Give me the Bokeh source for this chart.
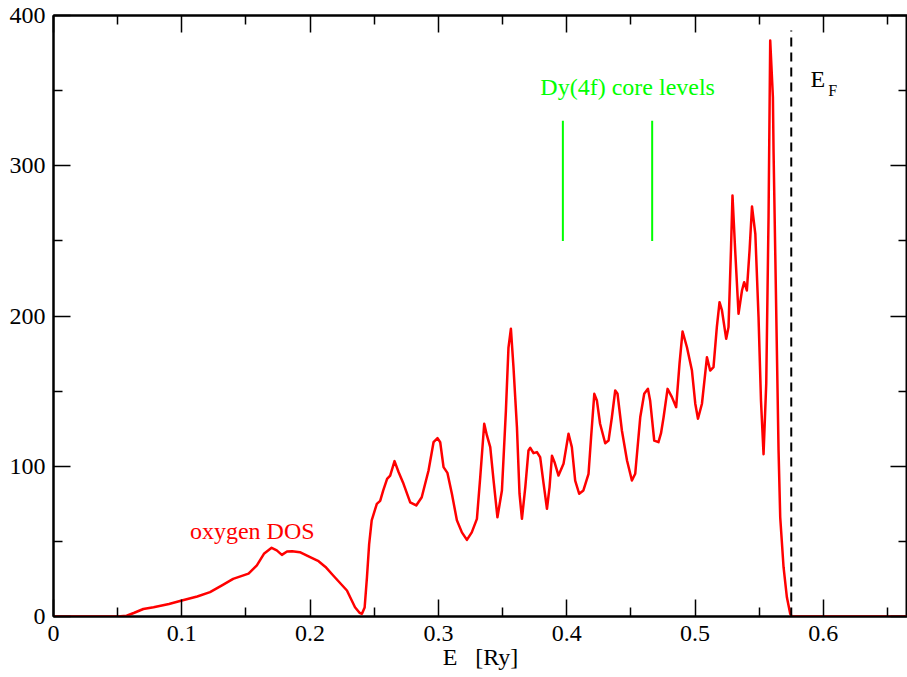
from bokeh.plotting import figure
from bokeh.models import FixedTicker, LinearAxis, ColumnDataSource
from bokeh.core.properties import value
from bokeh.embed import file_html
from bokeh.resources import INLINE

# ---- data ----
energy = [0.0, 0.05, 0.057, 0.063, 0.070, 0.078, 0.090, 0.100, 0.112, 0.122, 0.132, 0.140,
          0.152, 0.1585, 0.164, 0.170, 0.174, 0.178, 0.182, 0.186, 0.192, 0.200, 0.2066,
          0.212, 0.218, 0.2287, 0.235, 0.2385, 0.2404, 0.2425, 0.2443, 0.2460, 0.248,
          0.252, 0.2546, 0.257, 0.260, 0.2624, 0.2658, 0.269, 0.2728, 0.278, 0.2827,
          0.287, 0.2923, 0.2962, 0.2993, 0.3014, 0.304, 0.307, 0.3105, 0.3144, 0.3183,
          0.3222, 0.326, 0.330, 0.3326, 0.3357, 0.3378, 0.3404, 0.343, 0.346, 0.3495,
          0.3526, 0.3546, 0.3565, 0.3585, 0.3612, 0.3632, 0.3651, 0.3677, 0.3702, 0.3716,
          0.3741, 0.3768, 0.3793, 0.382, 0.3846, 0.3866, 0.3885, 0.3905, 0.3936, 0.3975,
          0.4014, 0.404, 0.4066, 0.4097, 0.413, 0.417, 0.419, 0.4215, 0.4235, 0.426,
          0.430, 0.4326, 0.4352, 0.4378, 0.4396, 0.443, 0.447, 0.4508, 0.4534, 0.4573,
          0.4604, 0.4633, 0.465, 0.4682, 0.4715, 0.4735, 0.4755, 0.4786, 0.482, 0.4853,
          0.4879, 0.4903, 0.4937, 0.4976, 0.5002, 0.5023, 0.5054, 0.5093, 0.5118, 0.5144,
          0.517, 0.5191, 0.521, 0.5243, 0.5261, 0.528, 0.5292, 0.5313, 0.5339, 0.5366,
          0.5383, 0.5404, 0.5425, 0.5444, 0.547, 0.5495, 0.5514, 0.5534, 0.5555, 0.5573,
          0.5586, 0.5607, 0.5612, 0.5638, 0.5651, 0.5664, 0.569, 0.5716, 0.5742, 0.5755,
          0.665]
dos = [0, 0, 0.5, 2.5, 5.0, 6.2, 8.3, 10.6, 13.3, 16.2, 21, 25,
       28.5, 34, 41.7, 45.7, 44, 41, 43.3, 43.5, 42.8, 39.5, 36.8,
       33, 27.3, 17.3, 6.2, 2.5, 1.8, 6, 26, 48, 64,
       75, 77, 84, 91.6, 93.8, 103.4, 96, 88.3, 76, 73.9,
       79.4, 97.2, 116, 118.7, 116, 99.4, 95.6, 81.7, 64, 56,
       51, 56, 65, 92.7, 128.3, 120.5, 112.7, 90.5, 66, 83.9,
       137, 179, 191.5, 166, 126, 81.7, 65, 86, 110.5, 112.3,
       108.7, 109.4, 106, 88.3, 71.7, 86, 107, 102.7, 93.8, 101.6,
       121.6, 112.7, 90.5, 81.7, 83.9, 95, 119.3, 148.2, 143.8, 128.3,
       115.3, 117.1, 132.6, 150.4, 148.2, 123.8, 103.8, 90.5, 95, 132.6,
       148.2, 151.5, 143.8, 117.1, 116, 122, 132.6, 151.5, 146, 139.3,
       168.2, 189.7, 179.2, 163.7, 141.6, 131.6, 141.6, 172.6, 163.7, 166,
       192.6, 209.2, 203.7, 184.8, 192.6, 243.6, 280.2, 243.6, 201.5, 217,
       222.5, 217, 243.6, 272.9, 254.7, 199.2, 143.8, 108, 154.9, 265.8,
       383.4, 345.6, 310, 177, 110.5, 66, 32.8, 12.8, 1.8, 0,
       0]

core_levels = [0.397, 0.4666]
core_bottom = [250, 250]
core_top = [330, 330]

fermi_energy = [0.575]
fermi_bottom = [0]
fermi_top = [390]

x_major = [0.0, 0.1, 0.2, 0.3, 0.4, 0.5, 0.6]
x_minor = [0.05, 0.15, 0.25, 0.35, 0.45, 0.55, 0.65]
x_labels = ["0", "0.1", "0.2", "0.3", "0.4", "0.5", "0.6"]
y_major = [0, 100, 200, 300, 400]
y_minor = [50, 150, 250, 350]
y_labels = ["0", "100", "200", "300", "400"]

FONT = "Liberation Serif"
RED = "#ff0000"
GREEN = "#00ff00"

p = figure(width=907, height=672, x_range=(0, 0.6656), y_range=(0, 400),
           output_backend="svg", toolbar_location=None,
           min_border_left=53, min_border_right=0, min_border_top=15, min_border_bottom=56)
p.grid.visible = False
p.outline_line_color = "black"
p.outline_line_width = 2
p.background_fill_color = "white"
p.border_fill_color = "white"


def style_axis(ax, major, minor, labels, show_labels):
    ax.ticker = FixedTicker(ticks=major, minor_ticks=minor)
    ax.major_tick_in = 17
    ax.major_tick_out = 0
    ax.minor_tick_in = 9
    ax.minor_tick_out = 0
    ax.axis_line_width = 2
    ax.major_tick_line_width = 1.5
    ax.minor_tick_line_width = 1.5
    ax.axis_line_color = "black"
    ax.major_tick_line_color = "black"
    ax.minor_tick_line_color = "black"
    if show_labels:
        ax.major_label_overrides = {float(t): l for t, l in zip(major, labels)}
        ax.major_label_text_font = FONT
        ax.major_label_text_font_size = "24px"
        ax.major_label_text_color = "black"
    else:
        ax.major_label_overrides = {float(t): "" for t in major}
        ax.major_label_text_font_size = "1px"
        ax.major_label_standoff = 0


style_axis(p.xaxis[0], x_major, x_minor, x_labels, True)
style_axis(p.yaxis[0], y_major, y_minor, y_labels, True)
p.xaxis[0].major_label_standoff = 9
p.yaxis[0].major_label_standoff = 8
p.xaxis[0].axis_label = "E\u00a0\u00a0\u00a0[Ry]"
p.xaxis[0].axis_label_text_font = FONT
p.xaxis[0].axis_label_text_font_size = "24px"
p.xaxis[0].axis_label_text_font_style = "normal"
p.xaxis[0].axis_label_text_color = "black"
p.xaxis[0].axis_label_standoff = 0

top_ax = LinearAxis()
style_axis(top_ax, x_major, x_minor, x_labels, False)
p.add_layout(top_ax, "above")
right_ax = LinearAxis()
style_axis(right_ax, y_major, y_minor, y_labels, False)
p.add_layout(right_ax, "right")

src = ColumnDataSource(data=dict(x=energy, y=dos))
p.line("x", "y", source=src, line_color=RED, line_width=2.5, line_join="round")

p.segment(x0=core_levels, y0=core_bottom, x1=core_levels, y1=core_top,
          line_color=GREEN, line_width=2)
p.segment(x0=fermi_energy, y0=fermi_bottom, x1=fermi_energy, y1=fermi_top,
          line_color="black", line_width=2, line_dash="9 6")

# ---- annotations ----
p.text(x=[0.1549], y=[57], text=["oxygen DOS"], text_font=value(FONT),
       text_font_size=value("24px"), text_color=RED,
       text_align="center", text_baseline="middle")
p.text(x=[0.4475], y=[352.7], text=["Dy(4f) core levels"], text_font=value(FONT),
       text_font_size=value("24px"), text_color=GREEN,
       text_align="center", text_baseline="middle")
p.text(x=[0.590], y=[358], text=["E"], text_font=value(FONT),
       text_font_size=value("24px"), text_color="black",
       text_align="left", text_baseline="middle")
p.text(x=[0.6038], y=[350], text=["F"], text_font=value(FONT),
       text_font_size=value("16px"), text_color="black",
       text_align="left", text_baseline="middle")

open("out.html", "w").write(file_html(p, INLINE))
